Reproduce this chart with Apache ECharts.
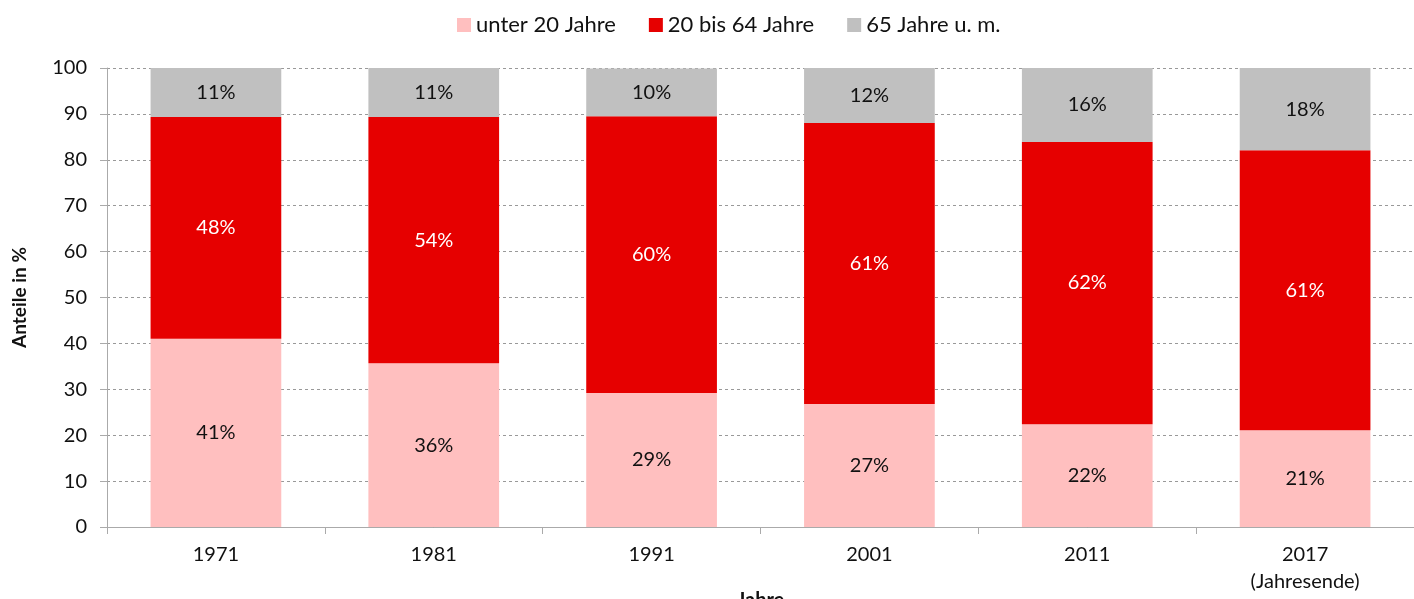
<!DOCTYPE html>
<html>
<head>
<meta charset="utf-8">
<script src="https://cdn.jsdelivr.net/npm/echarts@6/dist/echarts.min.js"></script>
<style>
  html, body { margin: 0; padding: 0; background: #fff; }
  #chart { width: 1414px; height: 599px; }
</style>
</head>
<body>
<div id="chart"></div>
<script>
  // Daten
  const years = ['1971', '1981', '1991', '2001', '2011', '2017\n(Jahresende)'];
  const unter20 = [41.0, 35.7, 29.2, 26.8, 22.4, 21.1];
  const mitte = [48.3, 53.6, 60.3, 61.2, 61.5, 61.0];
  const alt = [10.7, 10.7, 10.4, 12.0, 16.1, 17.9];
  const yTicks = [0, 10, 20, 30, 40, 50, 60, 70, 80, 90, 100];

  const font = 'Lato, "Open Sans", sans-serif';
  const chart = echarts.init(document.getElementById('chart'));

  const lbl = (color) => ({
    show: true,
    position: 'inside',
    color: color,
    fontFamily: font,
    fontSize: 20,
    formatter: p => Math.round(p.value) + '%'
  });

  const option = {
    animation: false,
    textStyle: { fontFamily: font },
    legend: {
      top: 9,
      left: 452,
      itemWidth: 14,
      itemHeight: 14,
      itemGap: 33,
      icon: 'rect',
      textStyle: { fontSize: 22, color: '#111', fontFamily: font }
    },
    grid: { left: 107, right: 0, top: 68, bottom: 72, outerBoundsMode: 'none' },
    xAxis: {
      type: 'category',
      data: years,
      name: 'Jahre',
      nameLocation: 'middle',
      nameGap: 64,
      nameMoveOverlap: false,
      nameTextStyle: { fontWeight: 'bold', fontSize: 20, color: '#111' },
      axisLine: { lineStyle: { color: '#aaa' } },
      axisTick: { show: true, length: 7, lineStyle: { color: '#aaa' } },
      axisLabel: { fontSize: 20, color: '#111', margin: 14, lineHeight: 27 }
    },
    yAxis: {
      type: 'value',
      min: 0, max: 100, interval: 10,
      name: 'Anteile in %',
      nameLocation: 'middle',
      nameGap: 78,
      nameMoveOverlap: false,
      nameTextStyle: { fontWeight: 'bold', fontSize: 19, color: '#111' },
      axisLine: { show: true, lineStyle: { color: '#aaa' } },
      axisTick: { show: true, length: 7, lineStyle: { color: '#aaa' } },
      axisLabel: {
        fontSize: 20, color: '#111', margin: 20,
        formatter: v => yTicks.includes(v) ? String(v) : ''
      },
      splitLine: { lineStyle: { color: '#999', type: [3, 3] } }
    },
    series: [
      { name: 'unter 20 Jahre', type: 'bar', stack: 'a', barWidth: '60%',
        itemStyle: { color: '#ffbfbf' }, label: lbl('#111'), data: unter20 },
      { name: '20 bis 64 Jahre', type: 'bar', stack: 'a',
        itemStyle: { color: '#e60000' }, label: lbl('#fff'), data: mitte },
      { name: '65 Jahre u. m.', type: 'bar', stack: 'a',
        itemStyle: { color: '#c0c0c0' }, label: lbl('#111'), data: alt }
    ]
  };
  chart.setOption(option);
</script>
</body>
</html>
